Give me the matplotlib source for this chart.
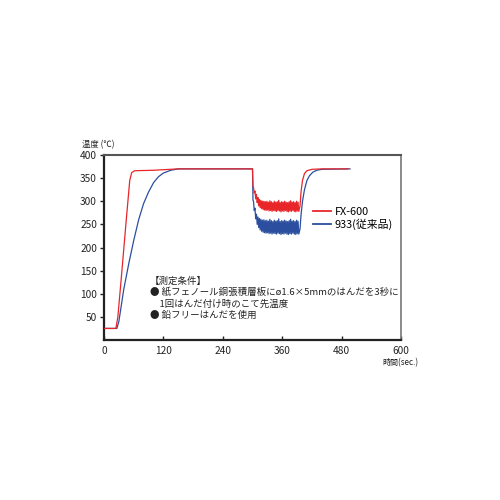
import numpy as np
import matplotlib
matplotlib.use("Agg")
import matplotlib.pyplot as plt

plt.rcParams['font.family'] = ['Noto Sans CJK JP', 'DejaVu Sans']

# ---- data ----
# FX-600: heat-up and idle
red_t_rise = [0, 24, 28, 35, 45, 52, 56, 62, 100, 150, 300, 301]
red_v_rise = [25, 25, 50, 135, 260, 345, 362, 366, 367, 370, 370, 332]
# FX-600: soldering load (peaks / troughs, 1.5 s apart)
red_peaks = [330, 322, 315, 308, 304, 302, 300, 300, 299, 300, 298, 301, 299, 297, 300,
             298, 299, 302, 297, 299, 298, 300, 298, 297, 299, 301, 298, 299, 297, 300, 298]
red_troughs = [318, 305, 297, 290, 286, 284, 282, 281, 280, 281, 279, 280, 278, 280, 279,
               278, 280, 279, 277, 279, 278, 280, 278, 277, 279, 278, 280, 278, 277, 279, 278]
# FX-600: recovery
red_t_rec = [396, 398, 401, 405, 410, 420, 440, 493]
red_v_rec = [290, 320, 345, 360, 366, 369, 370, 370]

# 933: heat-up and idle
blue_t_rise = [0, 26, 30, 35, 40, 50, 60, 70, 80, 90, 100, 110, 120, 135, 150, 300, 301]
blue_v_rise = [25, 25, 40, 75, 110, 165, 215, 260, 295, 320, 340, 353, 361, 367, 370, 370, 302]
blue_peaks = [300, 285, 272, 266, 263, 261, 259, 260, 258, 259, 257, 261, 258, 256, 259,
              257, 258, 262, 256, 258, 257, 259, 257, 256, 258, 261, 257, 258, 256, 259, 257]
blue_troughs = [280, 262, 250, 243, 238, 235, 233, 232, 231, 232, 230, 231, 229, 231, 230,
                229, 231, 230, 228, 230, 229, 231, 229, 228, 230, 229, 231, 229, 228, 230, 229]
blue_t_rec = [396, 398, 401, 405, 410, 415, 422, 430, 440, 497]
blue_v_rec = [240, 270, 300, 325, 345, 355, 363, 367, 369, 370]

noise_start = 302
noise_step = 1.5


def build(t_rise, v_rise, peaks, troughs, t_rec, v_rec):
    vals = []
    for p, q in zip(peaks, troughs):
        vals += [p, q]
    tn = noise_start + noise_step * np.arange(len(vals))
    t = np.concatenate([t_rise, tn, t_rec])
    v = np.concatenate([v_rise, vals, v_rec])
    return t, v


red_t, red_v = build(red_t_rise, red_v_rise, red_peaks, red_troughs, red_t_rec, red_v_rec)
blue_t, blue_v = build(blue_t_rise, blue_v_rise, blue_peaks, blue_troughs, blue_t_rec, blue_v_rec)

fig = plt.figure(figsize=(5, 5), dpi=100)
ax = fig.add_axes([0.208, 0.32, 0.594, 0.37])

ax.plot(red_t, red_v, color='#e8262a', lw=0.9, label='FX-600', zorder=3)
ax.plot(blue_t, blue_v, color='#2b4f9e', lw=0.9, label='933(従来品)', zorder=2)

ax.set_xlim(0, 600)
ax.set_ylim(0, 400)
ax.set_xticks([0, 120, 240, 360, 480, 600])
ax.set_yticks([50, 100, 150, 200, 250, 300, 350, 400])
ax.tick_params(axis='both', labelsize=7.3, colors='#222222', width=1)
ax.tick_params(axis='x', direction='in', length=3, pad=4)
ax.tick_params(axis='y', direction='out', length=3, pad=2)

ax.spines['left'].set_color('#222222')
ax.spines['left'].set_linewidth(1.6)
ax.spines['bottom'].set_color('#222222')
ax.spines['bottom'].set_linewidth(1.6)
ax.spines['top'].set_color('#555555')
ax.spines['top'].set_linewidth(1.5)
ax.spines['right'].set_color('#777777')
ax.spines['right'].set_linewidth(1.2)

leg = ax.legend(loc='upper left', bbox_to_anchor=(0.69, 0.745), frameon=False,
                fontsize=7.8, handlelength=1.6, handletextpad=0.35, labelspacing=0.2,
                borderaxespad=0)
for h in leg.get_lines():
    h.set_linewidth(1.3)

ax.text(0.155, 0.345, '【測定条件】\n● 紙フェノール銅張積層板にø1.6×5mmのはんだを3秒に\n'
        '　1回はんだ付け時のこて先温度\n● 鉛フリーはんだを使用',
        transform=ax.transAxes, fontsize=6.8, va='top', ha='left',
        linespacing=1.3, color='#222222')

fig.text(0.165, 0.706, '温度 (℃)', fontsize=6, color='#222222')
fig.text(0.765, 0.27, '時間(sec.)', fontsize=5.8, color='#222222')

fig.savefig('out.png', dpi=100, facecolor='white')
